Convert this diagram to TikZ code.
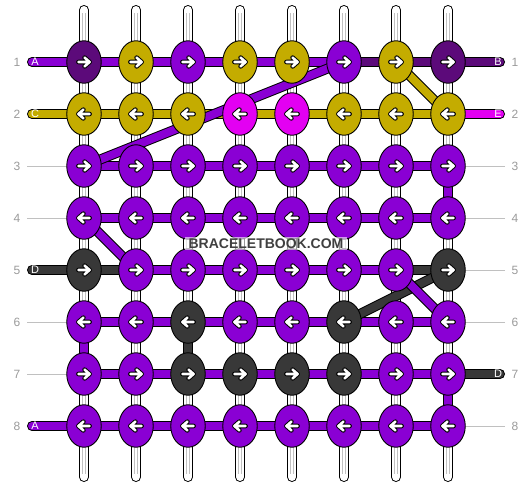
\documentclass[tikz,border=0pt]{standalone}
\usepackage{fontspec}
\setmainfont{Liberation Sans}
\usetikzlibrary{shapes.geometric}
\pgfdeclarelayer{strings}
\pgfdeclarelayer{threads}
\pgfsetlayers{strings,threads,main}
\definecolor{colA}{HTML}{8A00D4}
\definecolor{colB}{HTML}{5C0A7A}
\definecolor{colC}{HTML}{C4AC00}
\definecolor{colE}{HTML}{E300F2}
\definecolor{colD}{HTML}{383838}
\definecolor{numgray}{HTML}{9A9A9A}
\definecolor{linegray}{HTML}{C0C0C0}
\newcommand\knotarrow[1]{%
  \begin{scope}[shift={(path picture bounding box.center)},line cap=round,line join=round]
    \draw[black,line width=4.6pt] ({#1*-5.6pt},0pt) -- ({#1*5.6pt},0pt) ({#1*0.6pt},-4.4pt) -- ({#1*5.6pt},0pt) -- ({#1*0.6pt},4.4pt);
    \draw[white,line width=2.6pt] ({#1*-5.6pt},0pt) -- ({#1*5.6pt},0pt) ({#1*0.6pt},-4.4pt) -- ({#1*5.6pt},0pt) -- ({#1*0.6pt},4.4pt);
  \end{scope}}
\tikzset{
  knot/.style={ellipse,draw=black,line width=0.9pt,minimum width=34.5pt,minimum height=42.5pt,inner sep=0pt,fill=#1},
  rk/.style={knot=#1,path picture={\knotarrow{1}}},
  lk/.style={knot=#1,path picture={\knotarrow{-1}}},
  thr/.style={draw=black,line width=1pt,double=#1,double distance=8pt,line cap=round},
  rowline/.style={draw=linegray,line width=0.9pt},
  rownum/.style={text=numgray,font=\fontsize{12}{12}\selectfont,inner sep=0pt},
  endlab/.style={text=white,font=\fontsize{11}{11}\selectfont,inner sep=0pt},
}
\begin{document}
\begin{tikzpicture}[x=1pt,y=-1pt]
\useasboundingbox (0,0) rectangle (532,488);
% knots
\foreach \c [count=\i] in {colB,colC,colA,colC,colC,colA,colC,colB}
  \node[rk=\c] (k1\i) at ({84+52*(\i-1)},62) {};
\foreach \c [count=\i] in {colC,colC,colC,colE,colE,colC,colC,colC}
  \node[lk=\c] (k2\i) at ({84+52*(\i-1)},114) {};
\foreach \c [count=\i] in {colA,colA,colA,colA,colA,colA,colA,colA}
  \node[rk=\c] (k3\i) at ({84+52*(\i-1)},166) {};
\foreach \c [count=\i] in {colA,colA,colA,colA,colA,colA,colA,colA}
  \node[lk=\c] (k4\i) at ({84+52*(\i-1)},218) {};
\foreach \c [count=\i] in {colD,colA,colA,colA,colA,colA,colA,colD}
  \node[rk=\c] (k5\i) at ({84+52*(\i-1)},270) {};
\foreach \c [count=\i] in {colA,colA,colD,colA,colA,colD,colA,colA}
  \node[lk=\c] (k6\i) at ({84+52*(\i-1)},322) {};
\foreach \c [count=\i] in {colA,colA,colD,colD,colD,colD,colA,colA}
  \node[rk=\c] (k7\i) at ({84+52*(\i-1)},374) {};
\foreach \c [count=\i] in {colA,colA,colA,colA,colA,colA,colA,colA}
  \node[lk=\c] (k8\i) at ({84+52*(\i-1)},426) {};
% end coordinates
\foreach \r in {1,...,8} {
  \coordinate (L\r) at (32,{62+52*(\r-1)});
  \coordinate (R\r) at (500,{62+52*(\r-1)});
  \coordinate (GL\r) at (27,{62+52*(\r-1)});
  \coordinate (GR\r) at (505,{62+52*(\r-1)});
  \node[rownum] (nl\r) at (17,{62+52*(\r-1)}) {\r};
  \node[rownum] (nr\r) at (515,{62+52*(\r-1)}) {\r};
}
% warp strings
\begin{pgfonlayer}{strings}
\foreach \i in {1,...,8} {
  \coordinate (T\i) at ({84+52*(\i-1)},10);
  \coordinate (B\i) at ({84+52*(\i-1)},477);
  \coordinate (Ti\i) at ({84+52*(\i-1)},13);
  \coordinate (Bi\i) at ({84+52*(\i-1)},474);
  \draw[black,line width=10pt,line cap=round] (T\i) -- (B\i);
  \draw[white,line width=8pt,line cap=round] (T\i) -- (B\i);
  \draw[linegray,line width=4pt] (Ti\i) -- (Bi\i);
  \draw[white,line width=2pt] (Ti\i) -- (Bi\i);
}
\end{pgfonlayer}
\begin{pgfonlayer}{threads}
% gray row lines
\foreach \r in {3,4,6,7} \draw[rowline] (GL\r) -- (k\r1.center);
\foreach \r in {3,4,5,6,8} \draw[rowline] (GR\r) -- (k\r8.center);
% row 1
\draw[thr=colA] (L1) -- (k11.center) -- (k12.center) -- (k13.center) -- (k14.center) -- (k15.center) -- (k16.center);
\draw[thr=colB] (k16.center) -- (k17.center) -- (k18.center) -- (R1);
% row 2
\draw[thr=colC] (L2) -- (k21.center) -- (k22.center) -- (k23.center) -- (k24.center) -- (k25.center) -- (k26.center) -- (k27.center) -- (k28.center);
\draw[thr=colE] (k28.center) -- (R2);
% row 3
\draw[thr=colA] (k31.center) -- (k32.center) -- (k33.center) -- (k34.center) -- (k35.center) -- (k36.center) -- (k37.center) -- (k38.center);
\draw[thr=colA] (k38.center) -- (k48.center);
% row 4
\draw[thr=colA] (k41.center) -- (k42.center) -- (k43.center) -- (k44.center) -- (k45.center) -- (k46.center) -- (k47.center) -- (k48.center);
% row 5
\draw[thr=colD] (L5) -- (k51.center) -- (k52.center);
\draw[thr=colA] (k52.center) -- (k53.center) -- (k54.center) -- (k55.center) -- (k56.center) -- (k57.center);
\draw[thr=colD] (k57.center) -- (k58.center);
% row 6
\draw[thr=colA] (k61.center) -- (k62.center) -- (k63.center) -- (k64.center) -- (k65.center) -- (k66.center) -- (k67.center) -- (k68.center);
\draw[thr=colA] (k61.center) -- (k71.center);
\draw[thr=colD] (k63.center) -- (k73.center);
% row 7
\draw[thr=colA] (k71.center) -- (k72.center) -- (k73.center) -- (k74.center) -- (k75.center) -- (k76.center) -- (k77.center) -- (k78.center);
\draw[thr=colD] (k78.center) -- (R7);
\draw[thr=colA] (k78.center) -- (k88.center);
% row 8
\draw[thr=colA] (L8) -- (k81.center) -- (k82.center) -- (k83.center) -- (k84.center) -- (k85.center) -- (k86.center) -- (k87.center) -- (k88.center);
% diagonals
\draw[thr=colA] (k16.center) -- (k31.center);
\draw[thr=colC] (k17.center) -- (k28.center);
\draw[thr=colA] (k41.center) -- (k52.center);
\draw[thr=colD] (k58.center) -- (k66.center);
\draw[thr=colA] (k57.center) -- (k68.center);
\end{pgfonlayer}
% end labels
\node[endlab] (la) at (35,62) {A};
\node[endlab] (lc) at (35,114) {C};
\node[endlab] (ld) at (35,270) {D};
\node[endlab] (la8) at (35,426) {A};
\node[endlab] (lb) at (498,62) {B};
\node[endlab] (le) at (498,114) {E};
\node[endlab] (ld7) at (498,374) {D};
% watermark
\node[fill=white,fill opacity=0.6,text opacity=1,text=black!75,font=\bfseries\fontsize{14}{14}\selectfont,inner xsep=4pt,inner ysep=1.5pt] (wm) at (266,243.5) {BRACELETBOOK.COM};
\end{tikzpicture}
\end{document}
